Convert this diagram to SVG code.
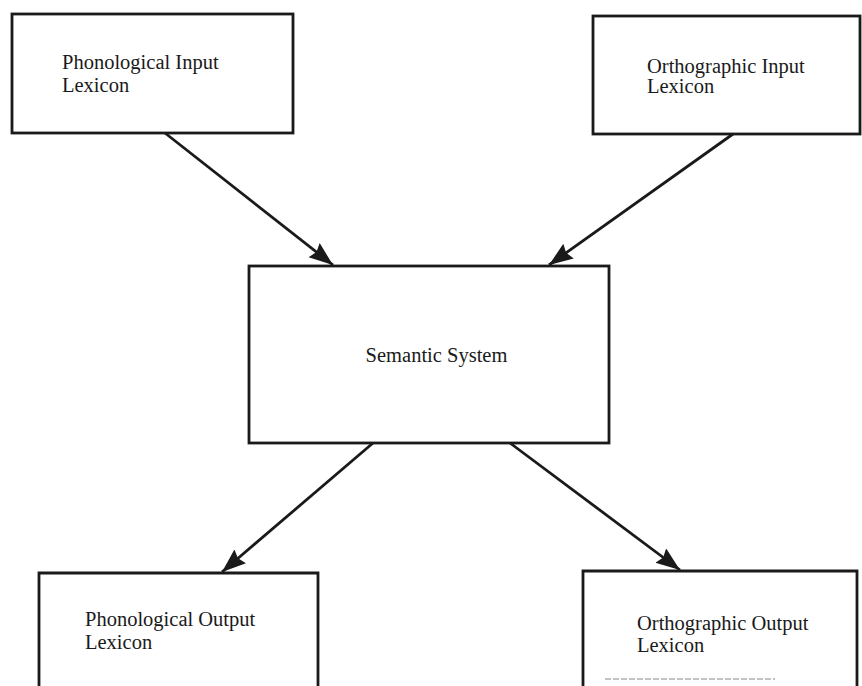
<svg xmlns="http://www.w3.org/2000/svg" width="862" height="686" viewBox="0 0 862 686">
<style>
.box{fill:#fff;stroke:#1a1a1a;stroke-width:2.8}
.lbl{font-family:"Liberation Serif","Times New Roman",serif;font-size:20.5px;fill:#1a1a1a}
.conn{stroke:#1a1a1a;stroke-width:2.8;fill:none}
</style>
<defs>
<marker id="ah" markerUnits="userSpaceOnUse" markerWidth="26" markerHeight="20" refX="24" refY="9" orient="auto">
<path d="M0,0 L24,9 L0,18 L3,9 Z" fill="#1a1a1a"/>
</marker>
</defs>
<rect width="862" height="686" fill="#fff"/>
<g id="phon-input">
<rect class="box" x="12" y="14" width="281" height="119"/>
<text class="lbl" x="62" y="69">Phonological Input</text>
<text class="lbl" x="62" y="92">Lexicon</text>
</g>
<g id="orth-input">
<rect class="box" x="593" y="16" width="267" height="118"/>
<text class="lbl" x="647" y="73">Orthographic Input</text>
<text class="lbl" x="647" y="93">Lexicon</text>
</g>
<g id="semantic">
<rect class="box" x="249" y="266" width="360" height="177"/>
<text class="lbl" x="436.5" y="362" text-anchor="middle">Semantic System</text>
</g>
<g id="phon-output">
<path class="box" d="M39,690 L39,573 L318,573 L318,690"/>
<text class="lbl" x="85" y="626">Phonological Output</text>
<text class="lbl" x="85" y="649">Lexicon</text>
</g>
<g id="orth-output">
<path class="box" d="M583,690 L583,571 L857,571 L857,690"/>
<line x1="605" y1="679" x2="775" y2="679" stroke="#888" stroke-width="1.2" stroke-dasharray="6,2"/>
<text class="lbl" x="637" y="630">Orthographic Output</text>
<text class="lbl" x="637" y="652">Lexicon</text>
</g>
<g id="connectors">
<line class="conn" x1="165" y1="133" x2="333" y2="265" marker-end="url(#ah)"/>
<line class="conn" x1="733" y1="134" x2="549" y2="265" marker-end="url(#ah)"/>
<line class="conn" x1="373" y1="443" x2="222" y2="572" marker-end="url(#ah)"/>
<line class="conn" x1="510" y1="443" x2="680" y2="570" marker-end="url(#ah)"/>
</g>
</svg>
